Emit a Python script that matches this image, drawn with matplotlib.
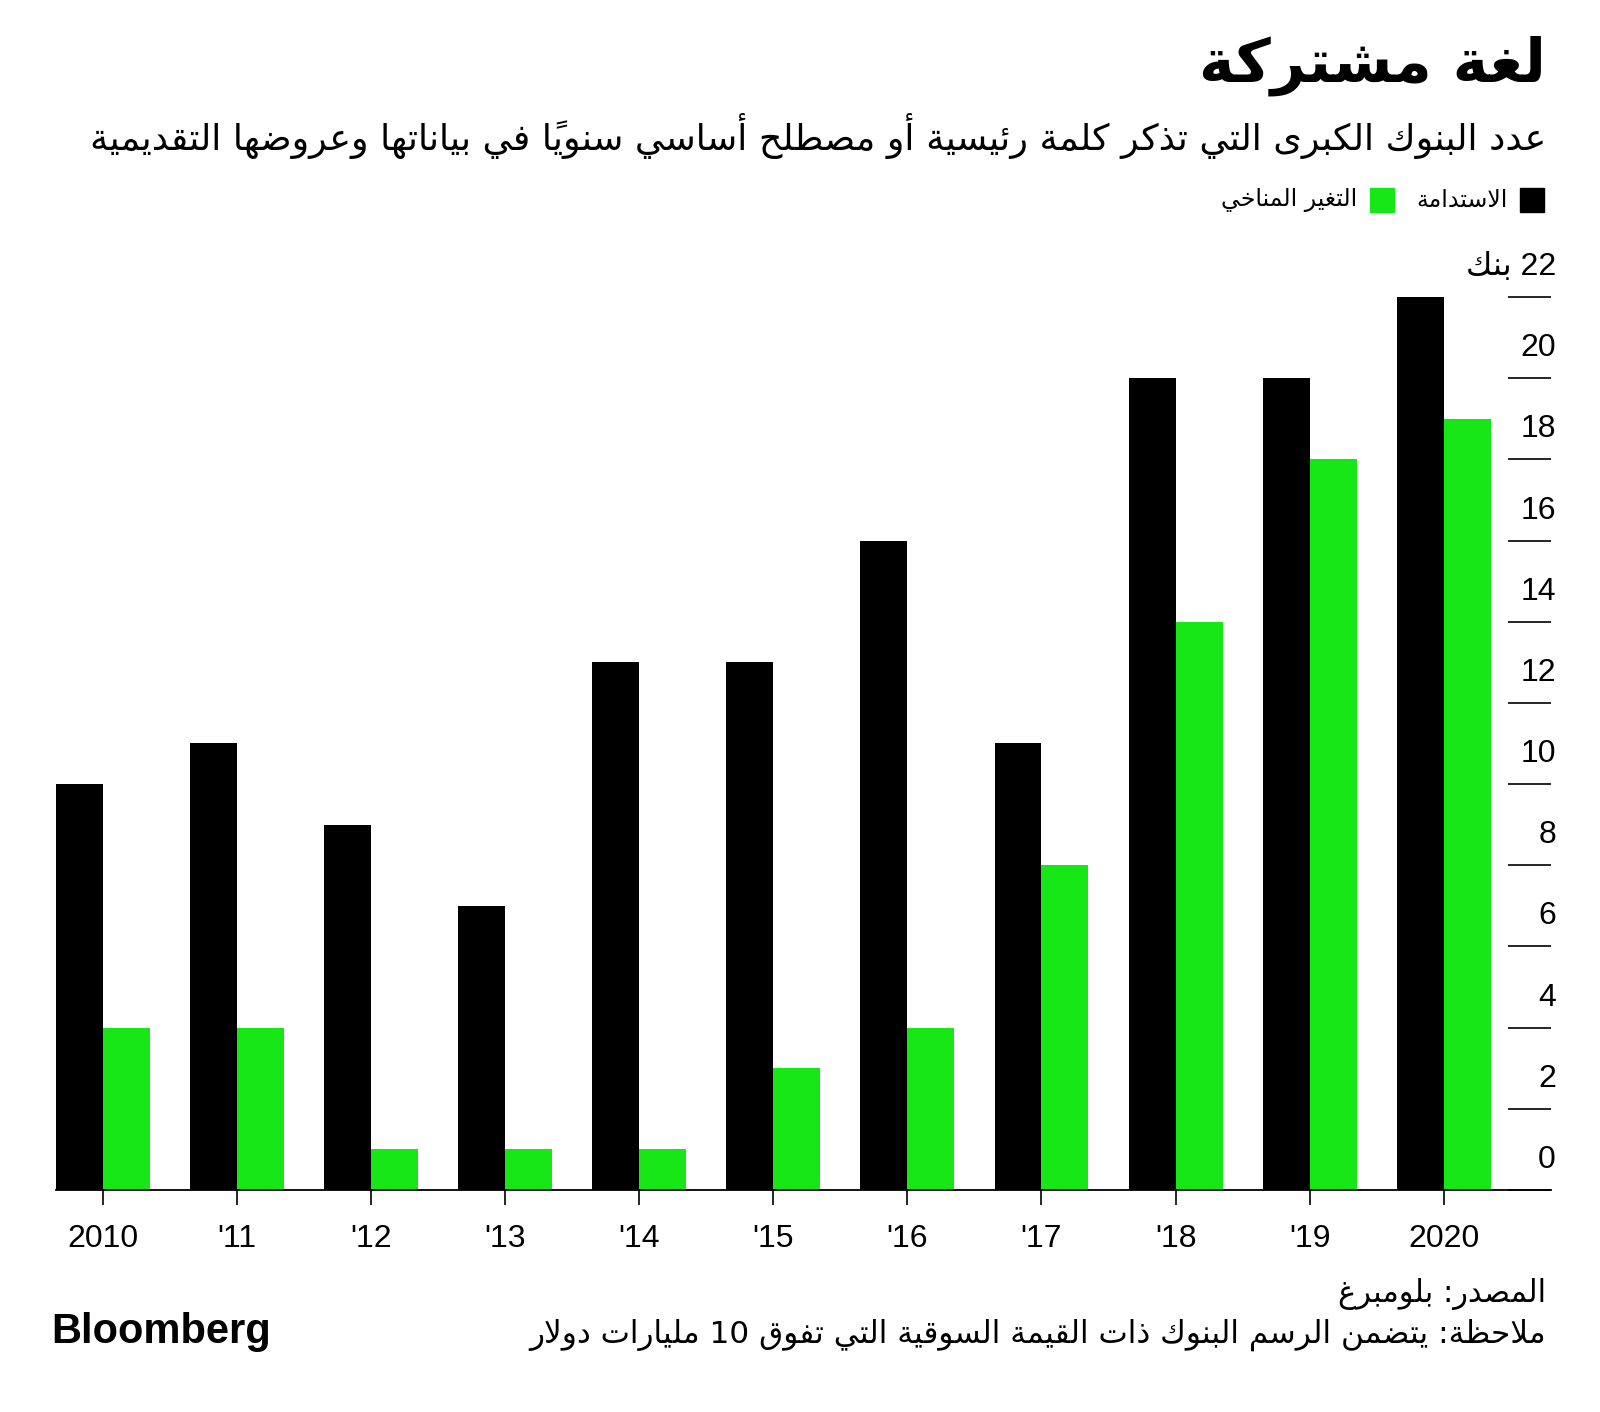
import re
import matplotlib
matplotlib.use("Agg")
import matplotlib.pyplot as plt
import matplotlib.transforms as mtransforms
from matplotlib.patches import Rectangle
import numpy as np

# Data
years = ["2010", "'11", "'12", "'13", "'14", "'15", "'16", "'17", "'18", "'19", "2020"]
sustainability = [10, 11, 9, 7, 13, 13, 16, 11, 20, 20, 22]
climate_change = [4, 4, 1, 1, 1, 3, 4, 8, 14, 18, 19]
y_ticks = [0, 2, 4, 6, 8, 10, 12, 14, 16, 18, 20, 22]

title = "لغة مشتركة"
subtitle = "عدد البنوك الكبرى التي تذكر كلمة رئيسية أو مصطلح أساسي سنوياً في بياناتها وعروضها التقديمية"
label_sust = "الاستدامة"
label_climate = "التغير المناخي"
unit = "بنك"
source = "المصدر: بلومبرغ"
note = "ملاحظة: يتضمن الرسم البنوك ذات القيمة السوقية التي تفوق 10 مليارات دولار"

GREEN = "#17e617"

# --- minimal Arabic shaping (matplotlib has no complex text layout) ---
_forms = {
    0x0621: (0xFE80,), 0x0622: (0xFE81, 0xFE82), 0x0623: (0xFE83, 0xFE84),
    0x0624: (0xFE85, 0xFE86), 0x0625: (0xFE87, 0xFE88),
    0x0626: (0xFE89, 0xFE8A, 0xFE8B, 0xFE8C), 0x0627: (0xFE8D, 0xFE8E),
    0x0628: (0xFE8F, 0xFE90, 0xFE91, 0xFE92), 0x0629: (0xFE93, 0xFE94),
    0x062A: (0xFE95, 0xFE96, 0xFE97, 0xFE98), 0x062B: (0xFE99, 0xFE9A, 0xFE9B, 0xFE9C),
    0x062C: (0xFE9D, 0xFE9E, 0xFE9F, 0xFEA0), 0x062D: (0xFEA1, 0xFEA2, 0xFEA3, 0xFEA4),
    0x062E: (0xFEA5, 0xFEA6, 0xFEA7, 0xFEA8), 0x062F: (0xFEA9, 0xFEAA),
    0x0630: (0xFEAB, 0xFEAC), 0x0631: (0xFEAD, 0xFEAE), 0x0632: (0xFEAF, 0xFEB0),
    0x0633: (0xFEB1, 0xFEB2, 0xFEB3, 0xFEB4), 0x0634: (0xFEB5, 0xFEB6, 0xFEB7, 0xFEB8),
    0x0635: (0xFEB9, 0xFEBA, 0xFEBB, 0xFEBC), 0x0636: (0xFEBD, 0xFEBE, 0xFEBF, 0xFEC0),
    0x0637: (0xFEC1, 0xFEC2, 0xFEC3, 0xFEC4), 0x0638: (0xFEC5, 0xFEC6, 0xFEC7, 0xFEC8),
    0x0639: (0xFEC9, 0xFECA, 0xFECB, 0xFECC), 0x063A: (0xFECD, 0xFECE, 0xFECF, 0xFED0),
    0x0641: (0xFED1, 0xFED2, 0xFED3, 0xFED4), 0x0642: (0xFED5, 0xFED6, 0xFED7, 0xFED8),
    0x0643: (0xFED9, 0xFEDA, 0xFEDB, 0xFEDC), 0x0644: (0xFEDD, 0xFEDE, 0xFEDF, 0xFEE0),
    0x0645: (0xFEE1, 0xFEE2, 0xFEE3, 0xFEE4), 0x0646: (0xFEE5, 0xFEE6, 0xFEE7, 0xFEE8),
    0x0647: (0xFEE9, 0xFEEA, 0xFEEB, 0xFEEC), 0x0648: (0xFEED, 0xFEEE),
    0x0649: (0xFEEF, 0xFEF0), 0x064A: (0xFEF1, 0xFEF2, 0xFEF3, 0xFEF4),
}
_lamalef = {0x0622: (0xFEF5, 0xFEF6), 0x0623: (0xFEF7, 0xFEF8),
            0x0625: (0xFEF9, 0xFEFA), 0x0627: (0xFEFB, 0xFEFC)}


def _is_mark(c):
    return 0x064B <= ord(c) <= 0x0652


def _dual(c):
    return c is not None and ord(c) in _forms and len(_forms[ord(c)]) == 4


def _letter(c):
    return c is not None and ord(c) in _forms


def shape(text):
    chars = list(text)
    n = len(chars)

    def neighbour(i, step):
        j = i + step
        while 0 <= j < n and _is_mark(chars[j]):
            j += step
        return (chars[j], j) if 0 <= j < n else (None, j)

    out = []
    i = 0
    while i < n:
        c = chars[i]
        if not _letter(c):
            out.append(c)
            i += 1
            continue
        prev, _ = neighbour(i, -1)
        nxt, jn = neighbour(i, 1)
        joins_prev = _dual(prev)
        if ord(c) == 0x0644 and nxt is not None and ord(nxt) in _lamalef:
            lig = _lamalef[ord(nxt)]
            out.append(chr(lig[1] if joins_prev else lig[0]))
            out.extend(chars[i + 1:jn])
            i = jn + 1
            continue
        f = _forms[ord(c)]
        joins_next = _dual(c) and _letter(nxt)
        if len(f) == 1:
            g = f[0]
        elif joins_prev and joins_next:
            g = f[3]
        elif joins_prev:
            g = f[1]
        elif joins_next:
            g = f[2]
        else:
            g = f[0]
        out.append(chr(g))
        i += 1
    shaped = "".join(out)
    # visual order: reverse, keeping digit runs and base+mark clusters
    runs = re.findall(r"[0-9]+|[^0-9]+", shaped)
    vis = []
    for r in reversed(runs):
        if r[0].isdigit():
            vis.append(r)
        else:
            clusters = []
            for ch in r:
                if _is_mark(ch) and clusters:
                    clusters[-1] += ch
                else:
                    clusters.append(ch)
            vis.append("".join(reversed(clusters)))
    return "".join(vis)


AR = ["DejaVu Sans"]
NUM = ["Liberation Sans", "DejaVu Sans"]

W, H = 1600, 1412
fig = plt.figure(figsize=(W / 100, H / 100), dpi=100)


def fx(x):
    return x / W


def fy(y):
    return 1 - y / H


ax = fig.add_axes([fx(56), fy(1190), fx(1551) - fx(56), fy(256.4) - fy(1190)])

x = np.arange(len(years))
w = 0.35
ax.bar(x - w / 2, sustainability, w, color="black", linewidth=0)
ax.bar(x + w / 2, climate_change, w, color=GREEN, linewidth=0)

ax.set_xlim(-0.35, 10.8)
ax.set_ylim(0, 23)

for s in ["top", "left", "right"]:
    ax.spines[s].set_visible(False)
ax.spines["bottom"].set_linewidth(1.3)

ax.set_xticks(x)
ax.set_xticklabels(years, fontsize=23, family=NUM)
ax.tick_params(axis="x", direction="out", length=10.8, width=1.2, pad=14)

ax.yaxis.tick_right()
ax.set_yticks(y_ticks)
ax.set_yticklabels([])
ax.tick_params(axis="y", direction="in", length=31, width=1.2, right=True, left=False)

trans = mtransforms.blended_transform_factory(ax.transAxes, ax.transData)
for v in y_ticks:
    lab = str(v) if v != 22 else shape(f"{v} {unit}")
    ax.text(1.0033, v + 0.74, lab, transform=trans, ha="right", va="center",
            fontsize=23, family=NUM, clip_on=False)

# Title and subtitle
fig.text(fx(1546), fy(66), shape(title), ha="right", va="center",
         fontsize=43.5, weight="bold", family=AR)
fig.text(fx(1546), fy(136), shape(subtitle), ha="right", va="center",
         fontsize=26.2, family=AR)

# Legend
fig.patches.append(Rectangle((fx(1520), fy(212)), fx(24), fy(188) - fy(212),
                             transform=fig.transFigure, color="black"))
fig.text(fx(1508), fy(200), shape(label_sust), ha="right", va="center", fontsize=17, family=AR)
fig.patches.append(Rectangle((fx(1370), fy(212)), fx(24), fy(188) - fy(212),
                             transform=fig.transFigure, color=GREEN))
fig.text(fx(1357), fy(200), shape(label_climate), ha="right", va="center", fontsize=17, family=AR)

# Footer
fig.text(fx(1546), fy(1294), shape(source), ha="right", va="center", fontsize=22, family=AR)
fig.text(fx(1546), fy(1335), shape(note), ha="right", va="center", fontsize=22.4, family=AR)
fig.text(fx(51), fy(1332), "Bloomberg", ha="left", va="center", fontsize=30,
         weight="bold", family=NUM)

fig.savefig("out.png", dpi=100)
